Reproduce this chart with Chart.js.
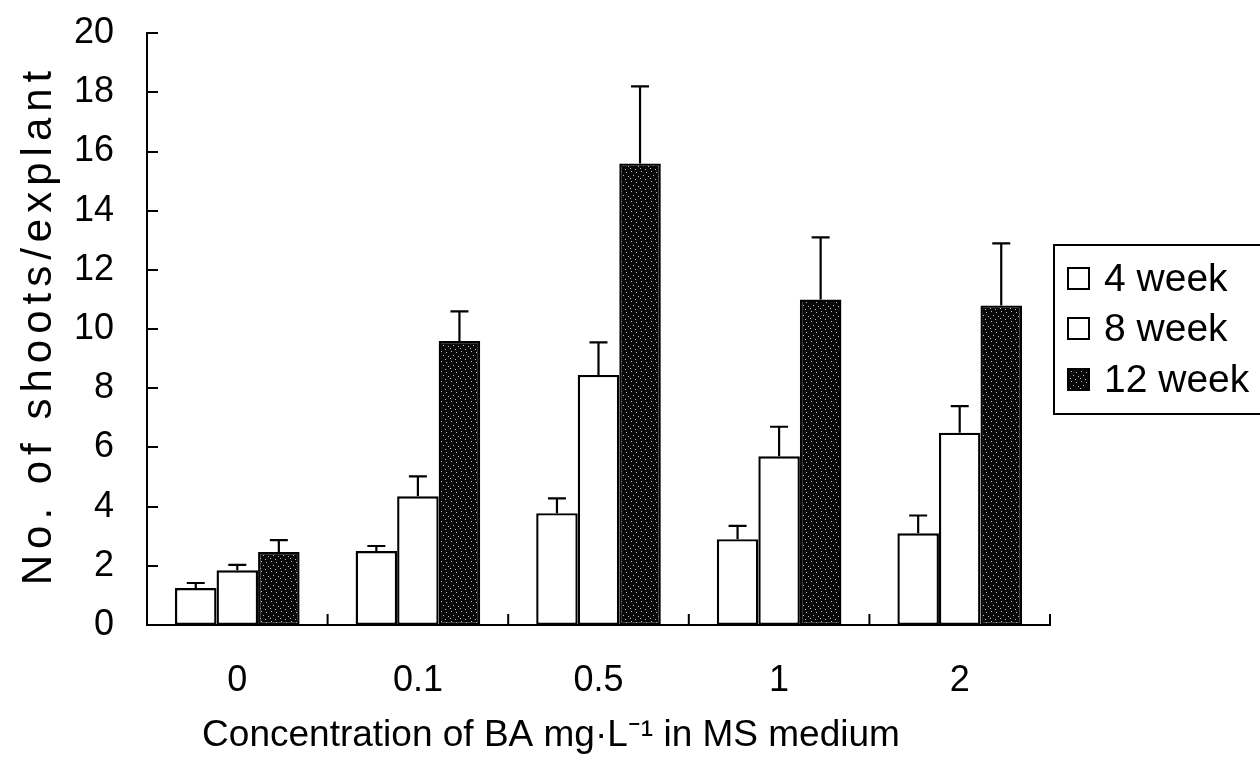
<!DOCTYPE html>
<html>
<head>
<meta charset="utf-8">
<script src="https://cdn.jsdelivr.net/npm/chart.js@4.4.1/dist/chart.umd.min.js"></script>
<style>
html,body{margin:0;padding:0;background:#fff;}
#wrap{width:1260px;height:764px;}
</style>
</head>
<body>
<div id="wrap"><canvas id="c" width="1260" height="764"></canvas></div>
<script>
const categories = ['0', '0.1', '0.5', '1', '2'];
const seriesLabels = ['4 week', '8 week', '12 week'];
const week4 = [1.25, 2.5, 3.78, 2.9, 3.1];
const week8 = [1.85, 4.35, 8.45, 5.7, 6.5];
const week12 = [2.47, 9.6, 15.6, 11.0, 10.8];
const err4 = [0.17, 0.17, 0.5, 0.45, 0.6];
const err8 = [0.18, 0.67, 1.1, 1.0, 0.9];
const err12 = [0.4, 1.0, 2.6, 2.1, 2.1];
const yTicks = [0, 2, 4, 6, 8, 10, 12, 14, 16, 18, 20];
const xTitle = 'Concentration of BA mg\u00B7L\u207B\u00B9 in MS medium';
const yTitle = 'No. of shoots/explant';

const FONT = "'Liberation Sans', Arial, sans-serif";

function makePattern() {
  const pc = document.createElement('canvas');
  pc.width = 10; pc.height = 10;
  const g = pc.getContext('2d');
  g.fillStyle = '#080808';
  g.fillRect(0, 0, 10, 10);
  g.fillStyle = 'rgba(255,255,255,0.75)';
  const dots = [[1,1],[6,2],[3,5],[8,6],[0,8],[5,9]];
  dots.forEach(d => g.fillRect(d[0], d[1], 1, 1));
  return g.createPattern(pc, 'repeat');
}
const darkFill = makePattern();

const errPlugin = {
  id: 'errbars',
  afterDatasetsDraw(chart) {
    const ctx = chart.ctx;
    const errs = [err4, err8, err12];
    const y = chart.scales.y;
    ctx.save();
    ctx.strokeStyle = '#000';
    ctx.lineWidth = 2.2;
    chart.data.datasets.forEach((ds, di) => {
      const meta = chart.getDatasetMeta(di);
      meta.data.forEach((el, i) => {
        const v = ds.data[i];
        const top = y.getPixelForValue(v + errs[di][i]);
        const x = el.x;
        ctx.beginPath();
        ctx.moveTo(x, el.y);
        ctx.lineTo(x, top);
        ctx.moveTo(x - 9, top);
        ctx.lineTo(x + 9, top);
        ctx.stroke();
      });
    });
    ctx.restore();
  }
};

const tickPlugin = {
  id: 'innerTicks',
  afterDraw(chart) {
    const ctx = chart.ctx;
    const a = chart.chartArea;
    const y = chart.scales.y;
    const x = chart.scales.x;
    ctx.save();
    ctx.strokeStyle = '#000';
    ctx.lineWidth = 2;
    y.ticks.forEach(t => {
      const py = Math.round(y.getPixelForValue(t.value));
      ctx.beginPath();
      ctx.moveTo(a.left, py);
      ctx.lineTo(a.left + 11, py);
      ctx.stroke();
    });
    const n = categories.length;
    const step = x.getPixelForValue(1) - x.getPixelForValue(0);
    for (let i = 0; i < n; i++) {
      const px = x.getPixelForValue(i) + step / 2;
      ctx.beginPath();
      ctx.moveTo(px, a.bottom);
      ctx.lineTo(px, a.bottom - 11);
      ctx.stroke();
    }
    ctx.restore();
  }
};

const titlePlugin = {
  id: 'axisTitles',
  afterDraw(chart) {
    const ctx = chart.ctx;
    ctx.save();
    ctx.fillStyle = '#000';
    ctx.textAlign = 'center';
    ctx.textBaseline = 'middle';
    ctx.font = '42px ' + FONT;
    ctx.letterSpacing = '6px';
    ctx.translate(39, 328);
    ctx.rotate(-Math.PI / 2);
    ctx.fillText(yTitle, 3, 0);
    ctx.restore();

    ctx.save();
    ctx.fillStyle = '#000';
    ctx.textAlign = 'center';
    ctx.textBaseline = 'middle';
    ctx.font = '37px ' + FONT;
    ctx.fillText(xTitle, 551, 736);
    ctx.restore();
  }
};

const legendPlugin = {
  id: 'boxLegend',
  afterDraw(chart) {
    const ctx = chart.ctx;
    const left = 1054, top = 245, right = 1262, bottom = 414;
    ctx.save();
    ctx.strokeStyle = '#000';
    ctx.lineWidth = 2;
    ctx.strokeRect(left, top, right - left, bottom - top);
    ctx.font = '39px ' + FONT;
    ctx.textBaseline = 'middle';
    const ys = [279, 329, 380];
    chart.data.datasets.forEach((ds, i) => {
      const cy = ys[i];
      ctx.fillStyle = ds.backgroundColor;
      ctx.fillRect(1068, cy - 11, 21, 21);
      ctx.strokeStyle = '#000';
      ctx.lineWidth = 2;
      ctx.strokeRect(1068, cy - 11, 21, 21);
      ctx.fillStyle = '#000';
      ctx.fillText(ds.label, 1104, cy + 1);
    });
    ctx.restore();
  }
};

new Chart(document.getElementById('c'), {
  type: 'bar',
  data: {
    labels: categories,
    datasets: [
      { label: seriesLabels[0], data: week4, backgroundColor: '#ffffff', borderColor: '#000', borderWidth: 2.4, borderSkipped: false },
      { label: seriesLabels[1], data: week8, backgroundColor: '#ffffff', borderColor: '#000', borderWidth: 2.4, borderSkipped: false },
      { label: seriesLabels[2], data: week12, backgroundColor: darkFill, borderColor: '#000', borderWidth: 2.4, borderSkipped: false }
    ]
  },
  options: {
    responsive: false,
    animation: false,
    devicePixelRatio: 1,
    layout: { padding: { left: 0, top: 0, right: 210, bottom: 0 } },
    plugins: { legend: { display: false }, tooltip: { enabled: false } },
    datasets: { bar: { categoryPercentage: 0.69, barPercentage: 1.0 } },
    scales: {
      x: {
        grid: { display: false, drawTicks: false },
        border: { display: true, color: '#000', width: 2 },
        ticks: { color: '#000', font: { family: FONT, size: 36 }, padding: 34, maxRotation: 0 },
        title: { display: false, text: xTitle },
        afterFit(s) { s.height = 764 - 625; }
      },
      y: {
        min: 0, max: 20,
        afterBuildTicks(s) { s.ticks = yTicks.map(v => ({ value: v })); },
        grid: { display: false, drawTicks: false },
        border: { display: true, color: '#000', width: 2 },
        ticks: { color: '#000', font: { family: FONT, size: 36, lineHeight: 0.01 }, padding: 33 },
        title: { display: false, text: yTitle },
        afterFit(s) { s.width = 147; }
      }
    }
  },
  plugins: [errPlugin, tickPlugin, titlePlugin, legendPlugin]
});
</script>
</body>
</html>
